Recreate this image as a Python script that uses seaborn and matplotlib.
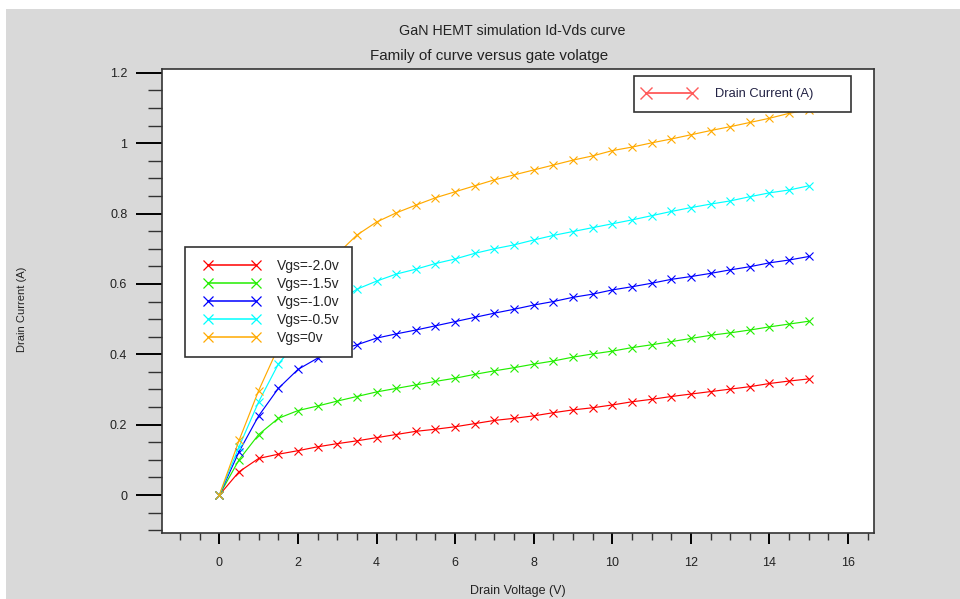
import matplotlib
matplotlib.use("Agg")
import matplotlib.pyplot as plt
from matplotlib.patches import Rectangle
from matplotlib.lines import Line2D
from matplotlib.legend_handler import HandlerLine2D
from matplotlib.ticker import MultipleLocator, FuncFormatter
import seaborn as sns
import pandas as pd

# ---------------- data ----------------
vds = [0, 0.5, 1, 1.5, 2, 2.5, 3, 3.5, 4, 4.5, 5, 5.5, 6, 6.5, 7, 7.5, 8, 8.5,
       9, 9.5, 10, 10.5, 11, 11.5, 12, 12.5, 13, 13.5, 14, 14.5, 15]

id_vgs_m20 = [0, 0.066, 0.104, 0.116, 0.126, 0.137, 0.146, 0.154, 0.163, 0.172,
              0.181, 0.187, 0.194, 0.203, 0.212, 0.218, 0.225, 0.234, 0.242, 0.248,
              0.256, 0.265, 0.272, 0.280, 0.287, 0.294, 0.301, 0.308, 0.317, 0.324, 0.330]
id_vgs_m15 = [0, 0.100, 0.172, 0.218, 0.240, 0.253, 0.267, 0.280, 0.293, 0.303,
              0.313, 0.323, 0.332, 0.343, 0.353, 0.362, 0.372, 0.381, 0.392, 0.401,
              0.409, 0.419, 0.427, 0.436, 0.445, 0.454, 0.461, 0.469, 0.478, 0.486, 0.494]
id_vgs_m10 = [0, 0.123, 0.225, 0.303, 0.357, 0.389, 0.410, 0.427, 0.446, 0.458,
              0.469, 0.481, 0.493, 0.505, 0.517, 0.528, 0.540, 0.550, 0.562, 0.571,
              0.583, 0.592, 0.602, 0.613, 0.621, 0.630, 0.640, 0.649, 0.660, 0.668, 0.678]
id_vgs_m05 = [0, 0.137, 0.265, 0.372, 0.440, 0.500, 0.548, 0.585, 0.608, 0.628,
              0.642, 0.658, 0.671, 0.687, 0.700, 0.711, 0.725, 0.738, 0.749, 0.760,
              0.771, 0.782, 0.794, 0.806, 0.817, 0.827, 0.836, 0.848, 0.859, 0.867, 0.879]
id_vgs_0 = [0, 0.155, 0.297, 0.420, 0.530, 0.610, 0.685, 0.739, 0.776, 0.802,
            0.824, 0.845, 0.862, 0.879, 0.896, 0.910, 0.924, 0.938, 0.952, 0.964,
            0.979, 0.989, 1.001, 1.012, 1.024, 1.036, 1.047, 1.059, 1.071, 1.085, 1.095]

series_labels = ["Vgs=-2.0v", "Vgs=-1.5v", "Vgs=-1.0v", "Vgs=-0.5v", "Vgs=0v"]
series_values = [id_vgs_m20, id_vgs_m15, id_vgs_m10, id_vgs_m05, id_vgs_0]
series_colors = ["#ff0000", "#22ee00", "#0000ff", "#00ffff", "#ffaa00"]

title1 = "GaN HEMT simulation Id-Vds curve"
title2 = "Family of curve versus gate volatge"
x_label = "Drain Voltage (V)"
y_label = "Drain Current (A)"
extra_legend_label = "Drain Current (A)"

# ---------------- build frame ----------------
df = pd.concat(
    [pd.DataFrame({"Vds": vds, "Id": vals, "series": lab})
     for lab, vals in zip(series_labels, series_values)],
    ignore_index=True,
)

sns.set_style("ticks")
plt.rcParams["font.family"] = ["Liberation Sans", "DejaVu Sans"]

W, H = 960, 599
fig = plt.figure(figsize=(W / 100, H / 100), dpi=100, facecolor="white")
fig.patches.append(Rectangle((6 / W, 0), 1 - 6 / W, 1 - 9 / H, transform=fig.transFigure,
                             facecolor="#d9d9d9", edgecolor="none", zorder=-10))

L, R, T, B = 162, 874, 69, 533
ax = fig.add_axes([L / W, 1 - B / H, (R - L) / W, (B - T) / H])
ax.set_facecolor("white")

palette = dict(zip(series_labels, series_colors))
sns.lineplot(data=df, x="Vds", y="Id", hue="series", hue_order=series_labels,
             palette=palette, marker="x", markersize=5.5, markeredgewidth=0.8,
             linewidth=0.85, ax=ax, legend=False, estimator=None, sort=False)
for ln in ax.lines:
    ln.set_markeredgecolor(ln.get_color())
    ln.set_markerfacecolor(ln.get_color())

ax.set_xlim(-1.46, 16.66)
ax.set_ylim(-0.108, 1.211)

ax.xaxis.set_major_locator(MultipleLocator(2))
ax.xaxis.set_minor_locator(MultipleLocator(0.5))
ax.yaxis.set_major_locator(MultipleLocator(0.2))
ax.yaxis.set_minor_locator(MultipleLocator(0.05))
ax.xaxis.set_major_formatter(FuncFormatter(lambda v, p: f"{v:g}" if v >= 0 else ""))
ax.yaxis.set_major_formatter(FuncFormatter(lambda v, p: f"{round(v, 2):g}"))

ax.tick_params(axis="y", which="major", length=19, width=1.4, color="black",
               pad=6, labelsize=9, labelcolor="#222222")
ax.tick_params(axis="y", which="minor", length=10, width=1.0, color="#333333")
ax.tick_params(axis="x", which="major", length=8, width=1.4, color="black",
               pad=9, labelsize=9, labelcolor="#222222")
ax.tick_params(axis="x", which="minor", length=5, width=1.0, color="#333333")

for s in ax.spines.values():
    s.set_visible(True)
    s.set_color("#333333")
    s.set_linewidth(1.2)

ax.set_xlabel(x_label, fontsize=9, color="#222222")
ax.xaxis.set_label_coords(0.5, -0.113)
ax.set_ylabel(y_label, fontsize=8, color="#222222")
ax.yaxis.set_label_coords(-0.19, 0.483)

# ---------------- legends ----------------
handles = [Line2D([0], [0], color=c, marker="x", markersize=7, markeredgewidth=0.9,
                  linewidth=1.1) for c in series_colors]
leg1 = fig.legend(handles, series_labels, loc="upper left",
                  bbox_to_anchor=(185 / W, 1 - 247 / H), bbox_transform=fig.transFigure,
                  fontsize=10, frameon=True, fancybox=False, edgecolor="#333333",
                  framealpha=1, numpoints=2, handlelength=4.27, handletextpad=1.5,
                  labelspacing=0.29, borderpad=0.85, borderaxespad=0,
                  handler_map={Line2D: HandlerLine2D(marker_pad=0, xpad=0.82)})
leg1.get_frame().set_linewidth(1.2)

h2 = [Line2D([0], [0], color="#ff5a5a", marker="x", markersize=9,
             markeredgewidth=1.0, linewidth=1.3)]
leg2 = fig.legend(h2, [extra_legend_label], loc="upper left",
                  bbox_to_anchor=(634 / W, 1 - 77 / H, 217 / W, 0.001),
                  bbox_transform=fig.transFigure, mode="expand",
                  fontsize=9.3, frameon=True, fancybox=False, edgecolor="#333333",
                  framealpha=1, numpoints=2, handlelength=3.57, handletextpad=1.78,
                  borderpad=0.92, borderaxespad=0,
                  handler_map={Line2D: HandlerLine2D(marker_pad=0)})
leg2.get_frame().set_linewidth(1.2)
for t in leg2.get_texts():
    t.set_color("#222244")

# ---------------- titles ----------------
fig.text(512 / W, 1 - 31 / H, title1, ha="center", va="center", fontsize=10.3,
         color="#222222")
fig.text(489 / W, 1 - 56 / H, title2, ha="center", va="center", fontsize=10.9,
         color="#222222")

fig.savefig("out.png", dpi=100, facecolor=fig.get_facecolor())
